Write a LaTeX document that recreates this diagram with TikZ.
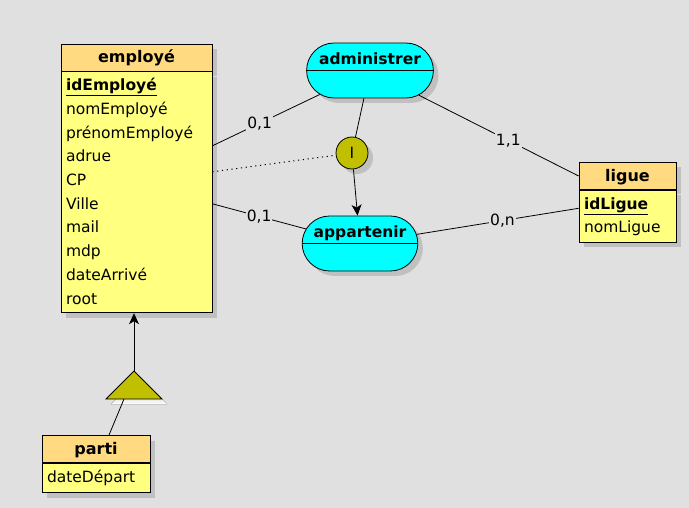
\documentclass[tikz,border=0pt]{standalone}
\usepackage{fontspec}
\setmainfont{DejaVu Sans}
\usepackage{tikz}
\usetikzlibrary{positioning}
\usetikzlibrary{shapes.misc}
\usetikzlibrary{shadows}
\usetikzlibrary{arrows.meta}
\usepackage{xcolor}
\definecolor{bg}{RGB}{224,224,224}
\definecolor{enthead}{RGB}{255,218,128}
\definecolor{entbody}{RGB}{255,255,128}
\definecolor{assocfill}{RGB}{0,255,255}
\definecolor{cifolive}{RGB}{192,192,0}
\definecolor{shade}{RGB}{192,192,192}

\begin{document}
\begin{tikzpicture}[x=1pt, y=-1pt, line width=0.8pt,
        every node/.style={font=\fontsize{15.5}{23.7}\selectfont},
        sh/.style={drop shadow={shadow xshift=5pt, shadow yshift=-5pt, fill=shade, opacity=1}},
        ent/.style={draw, fill=enthead, sh, font=\fontsize{16}{18}\selectfont\bfseries,
          inner sep=0pt, text height=19pt, text depth=8pt},
        attr/.style={draw, fill=entbody, sh, align=left, inner xsep=5pt, inner ysep=0pt, text height=19pt},
        assoc/.style={draw, rounded rectangle, fill=assocfill, sh, font=\fontsize{15.5}{18}\selectfont\bfseries,
          minimum height=55pt, inner ysep=0pt, text height=22pt, text depth=33pt},
        cif/.style={draw, circle, fill=cifolive, sh, minimum size=32pt, inner sep=0pt},
        card/.style={fill=bg, inner sep=1pt}]

        \path[use as bounding box, fill=bg] (0,0) rectangle (689,508);

        \node[ent, minimum width=151pt] (employe) at (136.5,57.5) {employé};
        \node[attr, text width=141pt, text depth=222pt] (employeA) [below=0pt of employe]
          {\underline{\textbf{idEmployé}}\\nomEmployé\\prénomEmployé\\adrue\\CP\\Ville\\mail\\mdp\\dateArrivé\\root};

        \node[ent, minimum width=97pt] (ligue) at (627.5,176) {ligue};
        \node[attr, text width=87pt, text depth=33pt] (ligueA) [below=0pt of ligue]
          {\underline{\textbf{idLigue}}\\nomLigue};

        \node[ent, minimum width=108pt] (parti) at (96,449) {parti};
        \node[attr, text width=98pt, text depth=10.5pt] (partiA) [below=0pt of parti] {dateDépart};

        \node[assoc, inner xsep=-15pt] (adm) at (370,70.5) {administrer};
        \draw (adm.west) -- (adm.east);
        \node[assoc, inner xsep=-16pt] (app) at (360,243.5) {appartenir};
        \draw (app.west) -- (app.east);

        \node[cif] (cif) at (352,153) {I};

        % heritage
        \coordinate (isa) at (134,371);
        \coordinate (isab) at (124,399);
        \fill[shade] ([shift={(5,5)}]isa) -- ++(28,28) -- ++(-56,0) -- cycle;
        \draw[fill=cifolive] (isa) -- ++(28,28) -- ++(-56,0) -- cycle;

        \path
        ([yshift=46.5pt]employeA.east) edge node[card, pos=.44] {0,1} (adm)
        (adm) edge node[card, pos=.56] {1,1} (ligue.west)
        ([yshift=-11.5pt]employeA.east) edge node[card, pos=.5] {0,1} (app)
        (app) edge node[card, pos=.53] {0,n} ([yshift=8pt]ligueA.west)
        (adm) edge (cif)
        (isab) edge ([xshift=13pt]parti.north);

        \path[line width=1pt, dash pattern=on 1.2pt off 3.6pt] ([yshift=20.5pt]employeA.east) edge (cif);

        \path[-{Stealth[length=11pt, width=10pt, inset=3pt]}]
        (cif) edge (app)
        (isa) edge (isa |- employeA.south);

      \end{tikzpicture}
\end{document}
